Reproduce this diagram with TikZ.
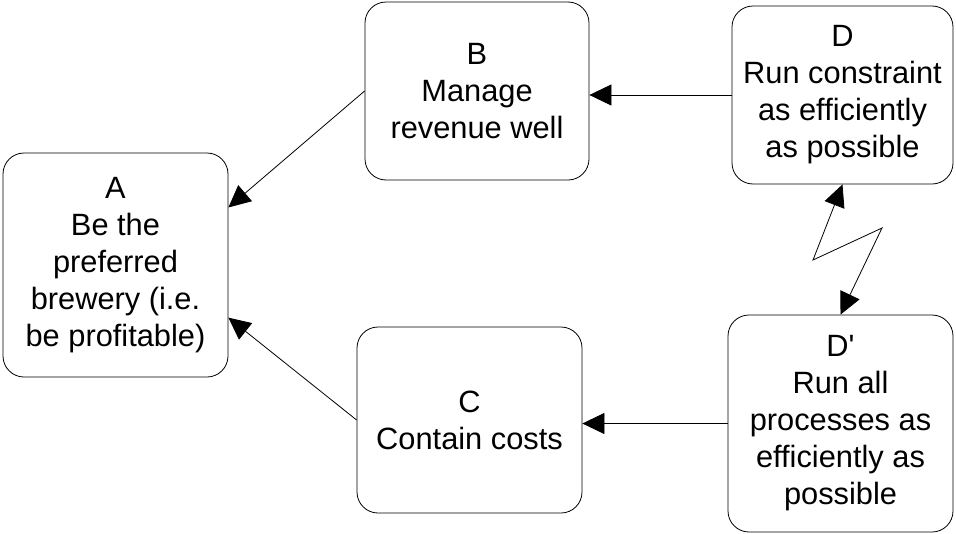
\documentclass[tikz,border=0pt]{standalone}
\usepackage{fontspec}
\setmainfont{Liberation Sans}
\usetikzlibrary{arrows.meta}
\tikzset{
  box/.style={draw=black, fill=white, line width=0.8pt, rounded corners=21pt,
    align=center, inner sep=0pt, font=\fontsize{30.8}{37}\selectfont},
  conn/.style={line width=0.8pt, -{Triangle[length=22pt,width=21pt]}},
  bothconn/.style={line width=0.8pt, {Triangle[length=22pt,width=21pt]}-{Triangle[length=22pt,width=21pt]}}
}
\begin{document}
\begin{tikzpicture}[x=1pt,y=-1pt]
\useasboundingbox (0,0) rectangle (956,533);
\node[box, minimum width=225pt, minimum height=224pt] (A) at (115.5,265)
  {A\\Be the\\preferred\\brewery (i.e.\\be profitable)};
\node[box, minimum width=224pt, minimum height=178pt] (B) at (477,91)
  {B\\Manage\\revenue well};
\node[box, minimum width=221pt, minimum height=178pt] (D) at (842.5,95)
  {D\\Run constraint\\as efficiently\\as possible};
\node[box, minimum width=225pt, minimum height=186pt] (C) at (469.5,420)
  {C\\Contain costs};
\node[box, minimum width=225pt, minimum height=217pt] (Dp) at (840.5,423.5)
  {D\textquotesingle\\Run all\\processes as\\efficiently as\\possible};
\coordinate (z1) at (813,260);
\coordinate (z2) at (882,228);
\draw[conn] (D.west) -- (D.west -| B.east);
\draw[conn] (Dp.west) -- (Dp.west -| C.east);
\draw[conn] (B.west) -- (A.27);
\draw[conn] (C.west) -- (A.-25);
\draw[bothconn] (Dp.north) -- (z2) -- (z1) -- (D.south);
\end{tikzpicture}
\end{document}
